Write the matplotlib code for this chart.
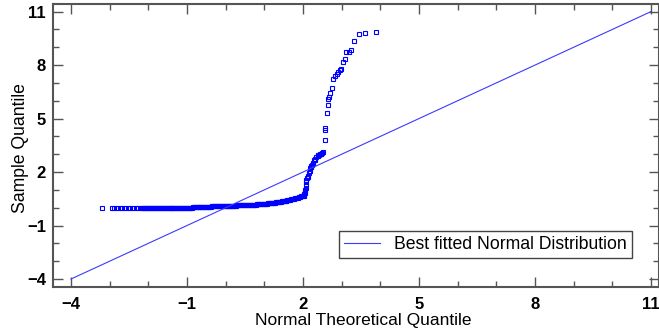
import matplotlib.pyplot as plt
from matplotlib.ticker import MultipleLocator

plt.rcParams['font.family'] = ['Liberation Sans', 'DejaVu Sans']

# sparse left tail (all sample values near zero)
tail_x = [-3.21, -2.95, -2.88, -2.81, -2.74, -2.67, -2.60, -2.53, -2.46,
          -2.40, -2.33, -2.27, -2.20]
tail_y = [0.00, 0.00, 0.00, 0.00, 0.00, 0.00, 0.00, 0.00, 0.00,
          0.00, 0.00, 0.00, 0.00]

# dense band of points hugging zero
band_x = [-2.15, -2.10, -2.05, -2.00, -1.95, -1.90, -1.85, -1.80, -1.75, -1.70,
          -1.65, -1.60, -1.55, -1.50, -1.45, -1.40, -1.35, -1.30, -1.25, -1.20,
          -1.15, -1.10, -1.05, -1.00, -0.95, -0.90, -0.85, -0.80, -0.75, -0.70,
          -0.65, -0.60, -0.55, -0.50, -0.45, -0.40, -0.35, -0.30, -0.25, -0.20,
          -0.15, -0.10, -0.05, 0.00, 0.05, 0.10, 0.15, 0.20, 0.25, 0.30,
          0.35, 0.40, 0.45, 0.50, 0.55, 0.60, 0.65, 0.70, 0.75, 0.80,
          0.85, 0.90, 0.95, 1.00, 1.05, 1.10, 1.15, 1.20, 1.25, 1.30,
          1.35, 1.40, 1.45, 1.50, 1.55, 1.60, 1.65, 1.70, 1.75, 1.80,
          1.85, 1.90, 1.95, 2.00]
band_x2 = [-2.125, -2.075, -2.025, -1.975, -1.925, -1.875, -1.825, -1.775,
           -1.725, -1.675, -1.625, -1.575, -1.525, -1.475, -1.425, -1.375,
           -1.325, -1.275, -1.225, -1.175, -1.125, -1.075, -1.025, -0.975,
           -0.925, -0.875, -0.825, -0.775, -0.725, -0.675, -0.625, -0.575,
           -0.525, -0.475, -0.425, -0.375, -0.325, -0.275, -0.225, -0.175,
           -0.125, -0.075, -0.025, 0.025, 0.075, 0.125, 0.175, 0.225,
           0.275, 0.325, 0.375, 0.425, 0.475, 0.525, 0.575, 0.625,
           0.675, 0.725, 0.775, 0.825, 0.875, 0.925, 0.975, 1.025,
           1.075, 1.125, 1.175, 1.225, 1.275, 1.325, 1.375, 1.425,
           1.475, 1.525, 1.575, 1.625, 1.675, 1.725, 1.775, 1.825,
           1.875, 1.925, 1.975, 2.015]
band_y = [0.00, 0.00, 0.00, 0.00, 0.00, 0.00, 0.00, 0.00, 0.00, 0.00,
          0.00, 0.00, 0.00, 0.00, 0.00, 0.00, 0.01, 0.01, 0.01, 0.01,
          0.01, 0.01, 0.01, 0.01, 0.01, 0.01, 0.02, 0.02, 0.03, 0.03,
          0.04, 0.04, 0.05, 0.05, 0.06, 0.06, 0.07, 0.07, 0.08, 0.08,
          0.09, 0.09, 0.10, 0.10, 0.11, 0.11, 0.12, 0.12, 0.12, 0.13,
          0.14, 0.14, 0.15, 0.15, 0.16, 0.17, 0.17, 0.18, 0.18, 0.19,
          0.20, 0.20, 0.21, 0.21, 0.22, 0.24, 0.25, 0.27, 0.28, 0.30,
          0.32, 0.34, 0.36, 0.38, 0.40, 0.42, 0.44, 0.47, 0.50, 0.54,
          0.57, 0.60, 0.63, 0.66]

# steep rise and upper tail
upper_x = [2.03, 2.04, 2.05, 2.06, 2.06, 2.07, 2.07, 2.08, 2.09, 2.10,
           2.12, 2.13, 2.16, 2.18, 2.19, 2.20, 2.22, 2.24, 2.26, 2.29,
           2.30, 2.32, 2.35, 2.38, 2.40, 2.42, 2.44, 2.46, 2.48, 2.50,
           2.52, 2.56, 2.58, 2.58, 2.62, 2.64, 2.66, 2.67, 2.69, 2.74,
           2.77, 2.82, 2.87, 2.91, 2.95, 2.99, 3.03, 3.08, 3.12, 3.18,
           3.25, 3.33, 3.44, 3.60, 3.89]
upper_y = [0.72, 0.76, 0.81, 0.95, 1.02, 1.10, 1.28, 1.45, 1.55, 1.66,
           1.72, 1.80, 1.94, 2.08, 2.22, 2.28, 2.32, 2.40, 2.52, 2.65,
           2.70, 2.75, 2.84, 2.90, 2.95, 2.97, 3.00, 3.01, 3.03, 3.06,
           3.15, 3.82, 4.35, 4.47, 5.29, 5.78, 6.10, 6.24, 6.43, 6.69,
           7.24, 7.37, 7.52, 7.60, 7.74, 7.80, 8.20, 8.34, 8.71, 8.71,
           8.87, 9.33, 9.72, 9.78, 9.84]

fit_x = [-4, 11]
fit_y = [-4, 11]
ticks = [-4, -1, 2, 5, 8, 11]

theo_q = tail_x + band_x + band_x2 + upper_x
sample_q = tail_y + band_y + band_y + upper_y

fig = plt.figure(figsize=(6.59, 3.33), dpi=100)
ax = fig.add_axes([0.0804, 0.138, 0.9196, 0.850])

ax.plot(theo_q, sample_q, linestyle='none', marker='s', markersize=3.3,
        markerfacecolor='none', markeredgecolor='#0000ff', markeredgewidth=0.8)
ax.plot(fit_x, fit_y, color='#3a3aff', linewidth=0.8,
        label='Best fitted Normal Distribution')

ax.set_xlim(-4.465, 11.21)
ax.set_ylim(-4.45, 11.43)
ax.set_xticks(ticks)
ax.set_yticks(ticks)
ax.xaxis.set_minor_locator(MultipleLocator(1))
ax.yaxis.set_minor_locator(MultipleLocator(1))

ax.tick_params(which='both', direction='in', top=True, right=True,
               color='#555555', width=1)
ax.tick_params(which='major', length=7)
ax.tick_params(which='minor', length=4)
ax.tick_params(axis='x', pad=7)
ax.tick_params(axis='y', pad=5)
for lab in ax.get_xticklabels() + ax.get_yticklabels():
    lab.set_fontweight('bold')
    lab.set_fontsize(12)
for s in ax.spines.values():
    s.set_color('#555555')
    s.set_linewidth(1.5)

ax.set_xlabel('Normal Theoretical Quantile', fontsize=12.5)
ax.xaxis.set_label_coords(0.512, -0.092)
ax.set_ylabel('Sample Quantile', fontsize=12.7)
ax.yaxis.set_label_coords(-0.040, 0.49)

leg = ax.legend(loc='lower right', bbox_to_anchor=(0.955, 0.102),
                fancybox=False, edgecolor='#444444', fontsize=12.7,
                handlelength=2.0, borderaxespad=0, framealpha=1,
                borderpad=0.3)
leg.get_frame().set_linewidth(1)

fig.savefig('out.png', dpi=100)
